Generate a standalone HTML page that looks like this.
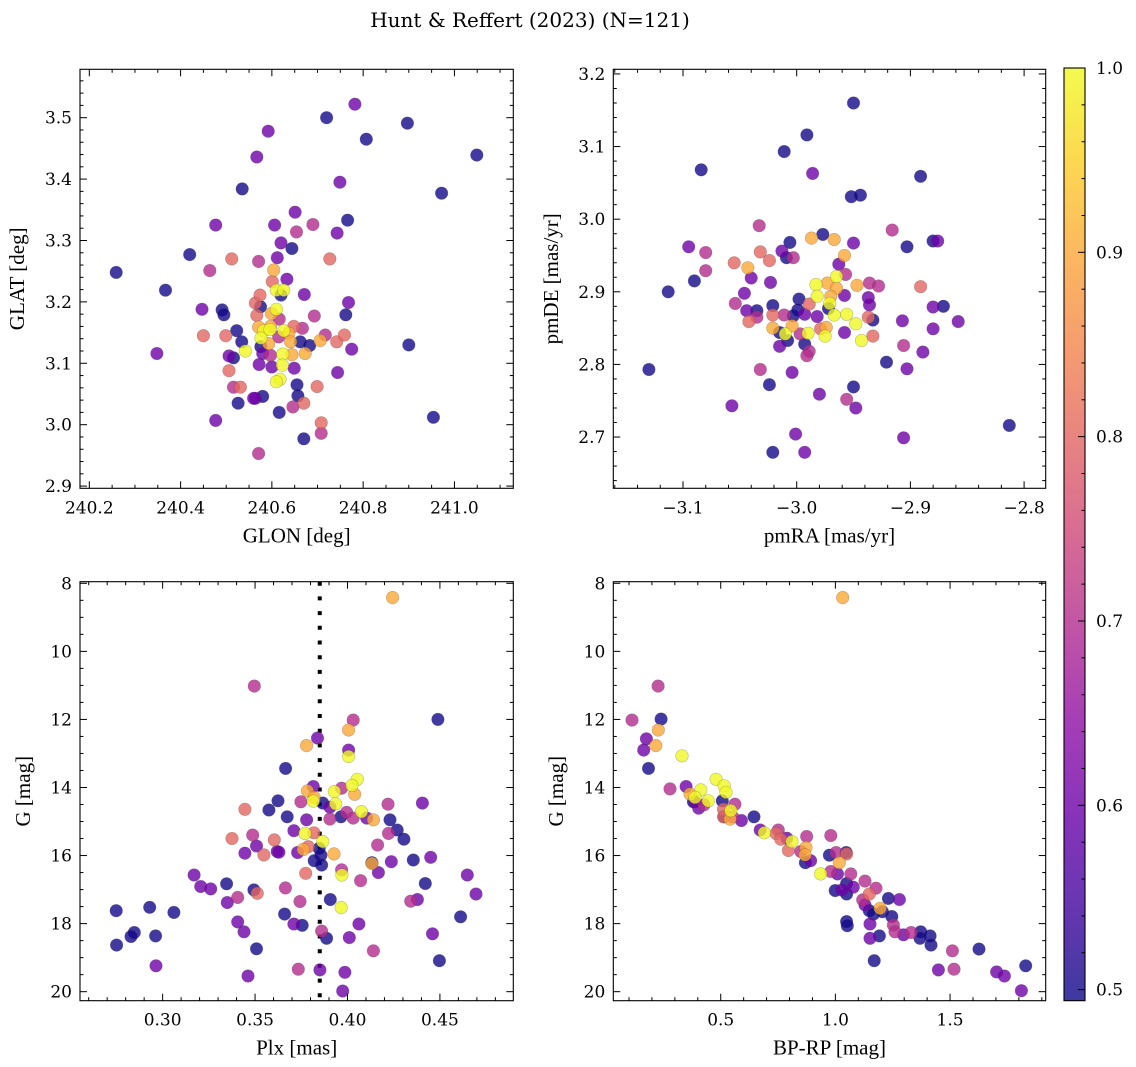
<!DOCTYPE html>
<html><head><meta charset="utf-8"><style>
html,body{margin:0;padding:0;background:#fff}
svg{display:block}
.tk{font-family:"DejaVu Serif",serif;font-size:17px;fill:#000}
.lb{font-family:"Liberation Serif",serif;font-size:21px;fill:#000}
</style></head><body>
<svg id="fig" width="1136" height="1067" viewBox="0 0 1136 1067" xmlns="http://www.w3.org/2000/svg">
<text x="530" y="27" text-anchor="middle" style="font-family:'DejaVu Serif',serif;font-size:20px">Hunt &amp; Reffert (2023) (N=121)</text>
</svg>
<script>
// ---------- data ----------
const glon=[240.259,240.367,240.348,240.420,240.477,240.464,240.447,240.450,240.491,240.495,240.512,240.499,240.523,240.534,240.506,240.516,240.506,240.516,240.531,240.526,240.477,240.535,240.567,240.592,240.571,240.571,240.564,240.580,240.572,240.542,240.564,240.574,240.567,240.575,240.571,240.582,240.576,240.597,240.599,240.593,240.576,240.580,240.597,240.600,240.604,240.601,240.610,240.626,240.620,240.610,240.606,240.620,240.612,240.633,240.616,240.626,240.637,240.615,240.624,240.623,240.618,240.610,240.644,240.641,240.649,240.655,240.657,240.646,240.670,240.616,240.644,240.651,240.654,240.667,240.662,240.683,240.673,240.671,240.670,240.690,240.693,240.699,240.708,240.708,240.706,240.717,240.727,240.720,240.742,240.759,240.743,240.749,240.744,240.762,240.768,240.775,240.766,240.782,240.807,240.897,240.900,240.972,240.954,241.049,240.648,240.560,240.596];
const glat=[3.248,3.219,3.116,3.277,3.325,3.251,3.188,3.145,3.187,3.179,3.270,3.145,3.153,3.135,3.112,3.109,3.088,3.061,3.061,3.035,3.007,3.384,3.436,3.478,3.266,2.953,3.043,3.046,3.098,3.120,3.198,3.211,3.178,3.192,3.159,3.153,3.141,3.160,3.181,3.132,3.127,3.116,3.113,3.094,3.252,3.233,3.219,3.219,3.211,3.188,3.325,3.296,3.272,3.237,3.172,3.153,3.149,3.143,3.115,3.097,3.074,3.070,3.114,3.135,3.092,3.065,3.047,3.029,3.035,3.020,3.287,3.346,3.314,3.157,3.135,3.129,3.116,3.212,2.977,3.326,3.177,3.062,3.003,2.986,3.137,3.146,3.270,3.500,3.135,3.146,3.312,3.395,3.085,3.179,3.199,3.123,3.333,3.522,3.465,3.491,3.130,3.377,3.012,3.439,3.160,3.043,3.155];
const probA=[.5,.5,.6,.5,.6,.7,.6,.8,.5,.5,.8,.8,.5,.5,.6,.5,.8,.7,.8,.5,.6,.5,.6,.6,.7,.7,.6,.5,.6,1,.8,.8,.8,.5,.9,1,1,.9,.9,.9,.5,.6,.7,.6,.9,.8,1,1,.5,1,.6,.6,.6,.6,.7,1,.9,.7,1,1,1,1,.9,.9,.6,.5,.5,.7,.8,.5,.5,.6,.7,.7,.5,.5,.9,.6,.5,.7,.7,.8,.8,.7,.9,.7,.8,.5,.8,.8,.6,.6,.6,.5,.6,.6,.5,.6,.5,.5,.5,.5,.5,.5,.8,.6,1];

const pmra=[-2.950,-2.991,-3.011,-3.084,-2.986,-2.891,-2.952,-2.944,-3.033,-2.987,-2.977,-2.967,-3.006,-2.950,-2.916,-2.903,-2.880,-2.876,-3.095,-3.080,-3.032,-3.024,-3.013,-3.009,-3.003,-3.055,-3.043,-3.080,-3.090,-3.113,-3.040,-3.023,-3.054,-3.046,-3.044,-3.035,-3.042,-3.035,-3.021,-3.021,-3.011,-3.003,-3.021,-3.004,-3.015,-3.010,-3.008,-3.015,-2.998,-2.999,-2.993,-2.989,-2.997,-2.993,-2.989,-2.991,-2.982,-2.983,-2.982,-2.990,-2.973,-2.965,-2.965,-2.970,-2.971,-2.972,-2.963,-2.958,-2.957,-2.958,-2.967,-2.956,-2.948,-2.979,-2.974,-2.975,-2.958,-2.947,-2.936,-2.928,-2.937,-2.936,-2.933,-2.937,-2.933,-2.943,-2.891,-2.880,-2.871,-2.858,-2.907,-2.880,-2.906,-2.889,-2.921,-2.903,-3.130,-3.032,-3.004,-3.024,-2.950,-2.980,-2.956,-2.948,-3.057,-2.813,-3.001,-2.906,-3.021,-2.993];
const pmde=[3.160,3.116,3.093,3.068,3.063,3.059,3.031,3.033,2.991,2.974,2.979,2.972,2.968,2.967,2.985,2.962,2.970,2.970,2.962,2.954,2.955,2.943,2.956,2.947,2.947,2.940,2.933,2.929,2.915,2.900,2.919,2.913,2.884,2.898,2.874,2.874,2.859,2.865,2.881,2.868,2.868,2.867,2.850,2.853,2.844,2.842,2.833,2.825,2.890,2.875,2.869,2.883,2.842,2.828,2.818,2.812,2.866,2.910,2.894,2.843,2.912,2.921,2.905,2.894,2.884,2.877,2.938,2.950,2.924,2.895,2.868,2.869,2.856,2.849,2.851,2.839,2.844,2.909,2.912,2.908,2.892,2.882,2.861,2.865,2.839,2.833,2.907,2.879,2.880,2.859,2.860,2.849,2.826,2.817,2.803,2.794,2.793,2.793,2.789,2.772,2.769,2.759,2.752,2.740,2.743,2.716,2.704,2.699,2.679,2.679];
const probB=[.5,.5,.5,.5,.6,.5,.5,.5,.7,.9,.5,.9,.5,.6,.7,.5,.5,.6,.6,.7,.8,.8,.6,.5,.7,.8,.9,.7,.5,.5,.6,.6,.7,.6,.6,.5,.8,.7,.5,.8,.7,.5,.9,.9,.5,1,.5,.6,.5,.5,.6,.8,.7,.5,.7,.7,.6,1,1,1,.9,1,.9,.9,1,.5,.6,.9,.7,.6,1,1,1,.8,.9,1,.6,.9,.7,.7,.6,.6,.5,.8,.8,1,.8,.6,.5,.6,.6,.6,.7,.6,.5,.6,.5,.7,.6,.5,.5,.6,.7,.6,.6,.5,.6,.6,.5,.6];

const plx=[0.4244,0.3496,0.4489,0.4031,0.4006,0.3838,0.3779,0.4006,0.4006,0.3665,0.4053,0.4024,0.3968,0.3815,0.3783,0.3929,0.4039,0.3820,0.3815,0.3748,0.3624,0.3866,0.3936,0.3905,0.3995,0.4076,0.4219,0.4405,0.3445,0.3575,0.3674,0.3965,0.3905,0.4031,0.4104,0.4140,0.4230,0.3779,0.4269,0.4305,0.4222,0.3710,0.3770,0.3819,0.3375,0.3487,0.3508,0.3604,0.3866,0.3788,0.3761,0.3730,0.3620,0.3629,0.3548,0.3445,0.3847,0.3856,0.3927,0.4163,0.4356,0.4450,0.4237,0.4132,0.4132,0.3820,0.3860,0.3774,0.3968,0.3970,0.4167,0.4071,0.3170,0.3206,0.3260,0.3346,0.3664,0.3494,0.3512,0.4421,0.4648,0.4695,0.3406,0.3743,0.3907,0.4342,0.4378,0.3966,0.3350,0.2749,0.2930,0.3061,0.3660,0.3710,0.3755,0.4062,0.3406,0.4612,0.2847,0.2829,0.2962,0.2751,0.3440,0.3860,0.3887,0.4010,0.4460,0.3508,0.4140,0.4497,0.2964,0.3734,0.3851,0.3986,0.3462,0.3974];
const gmagC=[8.42,11.02,12.00,12.02,12.31,12.55,12.77,12.90,13.09,13.44,13.76,13.94,14.02,13.97,14.10,14.12,14.20,14.29,14.40,14.42,14.39,14.46,14.48,14.58,14.73,14.71,14.49,14.46,14.64,14.66,14.86,14.86,14.93,14.90,14.90,14.95,14.95,14.95,15.25,15.52,15.35,15.27,15.35,15.33,15.50,15.40,15.72,15.54,15.59,15.74,15.82,15.91,15.88,15.90,15.98,15.93,15.79,15.99,15.95,15.69,16.13,16.05,16.18,16.21,16.23,16.15,16.28,16.52,16.42,16.57,16.50,16.74,16.57,16.91,16.98,16.83,16.95,17.01,17.11,16.82,16.57,17.13,17.23,17.35,17.29,17.34,17.29,17.53,17.38,17.62,17.52,17.67,17.72,18.01,18.05,18.01,17.95,17.80,18.26,18.38,18.36,18.63,18.24,18.22,18.43,18.41,18.30,18.74,18.80,19.09,19.24,19.34,19.36,19.43,19.54,19.98];
const probC=[.9,.7,.5,.7,.9,.6,.9,.6,1,.5,1,1,.7,.6,.9,1,.9,.9,1,.7,.5,.5,1,.6,.7,1,.7,.6,.8,.5,.5,.5,.7,.7,.6,.9,.5,.6,.5,.5,.7,.6,1,.8,.8,.7,.6,.8,1,.8,.9,.6,.6,.6,.8,.6,.5,.5,.9,.7,.5,.6,.6,.5,.9,.5,.5,.8,.7,1,.6,.7,.6,.6,.6,.5,.7,.5,.8,.5,.6,.6,.7,.7,.5,.7,.6,1,.6,.5,.5,.5,.5,.6,.5,.6,.6,.5,.5,.5,.5,.5,.6,.7,.5,.6,.6,.5,.7,.5,.6,.7,.6,.6,.6,.6];
const plxLine=0.385;

const bprp=[1.032,0.227,0.113,0.240,0.228,0.176,0.217,0.164,0.331,0.185,0.279,0.349,0.480,0.515,0.523,0.413,0.366,0.388,0.381,0.404,0.427,0.446,0.507,0.512,0.544,0.562,0.515,0.541,0.552,0.590,0.645,0.672,0.690,0.751,0.741,0.762,0.788,0.811,0.795,0.875,0.872,0.849,0.868,0.869,0.892,0.936,0.980,0.974,1.003,1.047,1.049,1.017,0.980,1.009,1.067,1.049,1.078,0.999,1.029,1.049,1.129,1.177,1.148,1.119,1.129,1.195,1.148,1.166,1.205,1.231,1.279,1.246,1.253,1.260,1.297,1.330,1.372,1.369,1.413,1.417,1.049,1.052,1.151,1.192,1.151,1.169,1.510,1.517,1.449,1.626,1.703,1.737,1.830,1.811,0.388,0.512];
const gmagD=[8.42,11.02,12.02,11.99,12.31,12.57,12.77,12.90,13.07,13.44,14.04,13.97,13.76,13.95,14.14,14.07,14.19,14.29,14.42,14.61,14.51,14.39,14.39,14.64,14.68,14.49,14.86,14.93,14.86,14.97,14.86,15.25,15.33,15.25,15.35,15.52,15.49,15.59,15.85,15.44,15.76,15.88,15.98,16.21,16.15,16.54,15.41,15.99,15.91,15.91,15.95,16.21,16.47,16.54,16.54,16.82,16.93,17.03,17.01,17.13,16.75,16.96,17.13,17.30,17.45,17.55,17.62,17.72,17.65,17.26,17.29,17.79,18.04,18.24,18.33,18.26,18.24,18.43,18.36,18.63,17.94,18.06,18.01,18.36,18.43,19.09,18.80,19.34,19.36,18.75,19.42,19.54,19.24,19.97,14.42,14.86];
const probD=[.9,.7,.7,.5,.9,.6,.9,.6,1,.5,.7,.6,1,1,1,1,.9,1,.5,.6,.7,1,.5,.8,1,.7,.5,.9,.7,.6,.5,.6,1,.7,.8,.8,.6,1,.8,.7,.9,.7,.9,.5,.6,1,.7,.5,.7,.5,.8,.9,.7,.6,.7,.5,.6,.5,.6,.5,.7,.7,.8,.7,.6,.9,.5,.5,.5,.5,.6,.5,.7,.7,.6,.7,.5,.5,.5,.5,.5,.5,.6,.5,.6,.5,.7,.7,.6,.5,.6,.6,.5,.6,.6,.8];

const cbTicks=[0.5,0.6,0.7,0.8,0.9,1.0];
const cbMin=0.494, cbMax=1.0;

// ---------- helpers ----------
const NS="http://www.w3.org/2000/svg";
const svg=document.getElementById('fig');
function mk(tag,attrs,parent){const e=document.createElementNS(NS,tag);for(const k in attrs)e.setAttribute(k,attrs[k]);(parent||svg).appendChild(e);return e;}
const PL=[[13,8,135],[65,4,157],[106,0,168],[143,13,164],[177,42,144],[204,71,120],[225,100,98],[242,132,75],[252,166,54],[252,206,37],[240,249,33]];
function plasma(t){t=Math.max(0,Math.min(1,t));const s=t*10,i=Math.min(9,Math.floor(s)),f=s-i;const a=PL[i],b=PL[i+1];return `rgb(${Math.round(a[0]+(b[0]-a[0])*f)},${Math.round(a[1]+(b[1]-a[1])*f)},${Math.round(a[2]+(b[2]-a[2])*f)})`;}
function pcol(p){return plasma((p-cbMin)/(cbMax-cbMin));}
function fmtMinus(s){return s.replace('-','\u2212');}

function panel(o){
  const g=mk('g',{});
  
  
  const sx=v=>o.x0+(v-o.xd[0])/(o.xd[1]-o.xd[0])*(o.x1-o.x0);
  const sy=v=>o.y0+(v-o.yd[0])/(o.yd[1]-o.yd[0])*(o.y1-o.y0);
  // extra (line)
  if(o.vline!==undefined){
    const l=mk('line',{x1:sx(o.vline),x2:sx(o.vline),y1:o.y0,y2:o.y1,stroke:'#000','stroke-width':4,'stroke-dasharray':'4 10.7'},g);
    
    
  }
  // points sorted by prob
  const idx=o.xs.map((_,i)=>i).sort((a,b)=>o.ps[a]-o.ps[b]);
  const pg=mk('g',{},g);
  
  
  for(const i of idx){
    const c=mk('circle',{cx:sx(o.xs[i]).toFixed(1),cy:sy(o.ys[i]).toFixed(1),r:6.3,fill:pcol(o.ps[i]),'fill-opacity':0.8,stroke:'#444','stroke-opacity':0.35,'stroke-width':0.6},pg);
    
    
  }
  // frame
  const fr=mk('rect',{x:o.x0,y:o.y0,width:o.x1-o.x0,height:o.y1-o.y0,fill:'none',stroke:'#000','stroke-width':1.1},g);
  
  
  const lo=Math.min(o.xd[0],o.xd[1]),hi=Math.max(o.xd[0],o.xd[1]);
  // x ticks
  for(let k=Math.ceil(lo/o.xmin-1e-6);k<=Math.floor(hi/o.xmin+1e-6);k++){
    const v=k*o.xmin,X=sx(v);const major=Math.abs(v/o.xmaj-Math.round(v/o.xmaj))<1e-6;const L=major?7:3.5;
    mk('line',{x1:X,x2:X,y1:o.y1,y2:o.y1-L,stroke:'#000','stroke-width':1},g);
    mk('line',{x1:X,x2:X,y1:o.y0,y2:o.y0+L,stroke:'#000','stroke-width':1},g);
  }
  o.xt.forEach((v,i)=>{const t=mk('text',{x:sx(v),y:o.y1+25,'text-anchor':'middle',class:'tk'},g);t.textContent=o.xtl[i];
    
    });
  const ylo=Math.min(o.yd[0],o.yd[1]),yhi=Math.max(o.yd[0],o.yd[1]);
  for(let k=Math.ceil(ylo/o.ymin-1e-6);k<=Math.floor(yhi/o.ymin+1e-6);k++){
    const v=k*o.ymin,Y=sy(v);const major=Math.abs(v/o.ymaj-Math.round(v/o.ymaj))<1e-6;const L=major?7:3.5;
    mk('line',{x1:o.x0,x2:o.x0+L,y1:Y,y2:Y,stroke:'#000','stroke-width':1},g);
    mk('line',{x1:o.x1,x2:o.x1-L,y1:Y,y2:Y,stroke:'#000','stroke-width':1},g);
  }
  o.yt.forEach((v,i)=>{const t=mk('text',{x:o.x0-8,y:sy(v)+6,'text-anchor':'end',class:'tk'},g);t.textContent=o.ytl[i];
    
    });
  const xl=mk('text',{x:(o.x0+o.x1)/2,y:o.y1+54,'text-anchor':'middle',class:'lb'},g);xl.textContent=o.xlab;
  
  
  const yx=o.ylx, yy=(o.y0+o.y1)/2;
  const yl=mk('text',{x:yx,y:yy,'text-anchor':'middle',class:'lb',transform:`rotate(-90 ${yx} ${yy})`},g);yl.textContent=o.ylab;
  
  
}

panel({name:'panel-glon-glat',x0:80,x1:513.3,y0:69.3,y1:488.3,xd:[240.1796,241.129],yd:[3.5788,2.8964],
  xs:glon,ys:glat,ps:probA,xmaj:0.2,xmin:0.05,ymaj:0.1,ymin:0.02,
  xt:[240.2,240.4,240.6,240.8,241.0],xtl:['240.2','240.4','240.6','240.8','241.0'],
  yt:[2.9,3.0,3.1,3.2,3.3,3.4,3.5],ytl:['2.9','3.0','3.1','3.2','3.3','3.4','3.5'],
  xlab:'GLON [deg]',ylab:'GLAT [deg]',ylx:24});
panel({name:'panel-proper-motion',x0:613.3,x1:1045.7,y0:69.3,y1:488.3,xd:[-3.1613,-2.781],yd:[3.2064,2.6294],
  xs:pmra,ys:pmde,ps:probB,xmaj:0.1,xmin:0.02,ymaj:0.1,ymin:0.02,
  xt:[-3.1,-3.0,-2.9,-2.8],xtl:['-3.1','-3.0','-2.9','-2.8'].map(fmtMinus),
  yt:[2.7,2.8,2.9,3.0,3.1,3.2],ytl:['2.7','2.8','2.9','3.0','3.1','3.2'],
  xlab:'pmRA [mas/yr]',ylab:'pmDE [mas/yr]',ylx:558});
panel({name:'panel-parallax-mag',x0:80,x1:513.3,y0:581.7,y1:1000.7,xd:[0.2553,0.4897],yd:[7.953,20.265],
  xs:plx,ys:gmagC,ps:probC,xmaj:0.05,xmin:0.01,ymaj:2,ymin:0.5,vline:plxLine,
  xt:[0.30,0.35,0.40,0.45],xtl:['0.30','0.35','0.40','0.45'],
  yt:[8,10,12,14,16,18,20],ytl:['8','10','12','14','16','18','20'],
  xlab:'Plx [mas]',ylab:'G [mag]',ylx:30});
panel({name:'panel-cmd',x0:613.3,x1:1045.7,y0:581.7,y1:1000.7,xd:[0.0316,1.917],yd:[7.953,20.265],
  xs:bprp,ys:gmagD,ps:probD,xmaj:0.5,xmin:0.1,ymaj:2,ymin:0.5,
  xt:[0.5,1.0,1.5],xtl:['0.5','1.0','1.5'],
  yt:[8,10,12,14,16,18,20],ytl:['8','10','12','14','16','18','20'],
  xlab:'BP-RP [mag]',ylab:'G [mag]',ylx:563});

// ---------- colorbar ----------
(function(){
  const cx0=1064,cx1=1085,cy0=68,cy1=1000.7;
  const cg=mk('g',{});
  
  
  const defs=mk('defs',{},cg);
  const lg=mk('linearGradient',{id:'cbg',x1:0,y1:1,x2:0,y2:0},defs);
  for(let i=0;i<=20;i++)mk('stop',{offset:i/20,'stop-color':plasma(i/20)},lg);
  mk('rect',{x:cx0,y:cy0,width:cx1-cx0,height:cy1-cy0,fill:'url(#cbg)','fill-opacity':0.8},cg);
  mk('rect',{x:cx0,y:cy0,width:cx1-cx0,height:cy1-cy0,fill:'none',stroke:'#000','stroke-width':1.1},cg);
  const sy=v=>cy1-(v-cbMin)/(cbMax-cbMin)*(cy1-cy0);
  for(let k=25;k<=50;k++){const v=k*0.02;if(v<cbMin-1e-6)continue;const Y=sy(v);const maj=k%5===0;
    mk('line',{x1:cx1,x2:cx1-(maj?7:3.5),y1:Y,y2:Y,stroke:'#000','stroke-width':1},cg);}
  cbTicks.forEach(v=>{const t=mk('text',{x:cx1+11,y:sy(v)+6,class:'tk'},cg);t.textContent=v.toFixed(1);
    
    });
})();
</script>
</body></html>
